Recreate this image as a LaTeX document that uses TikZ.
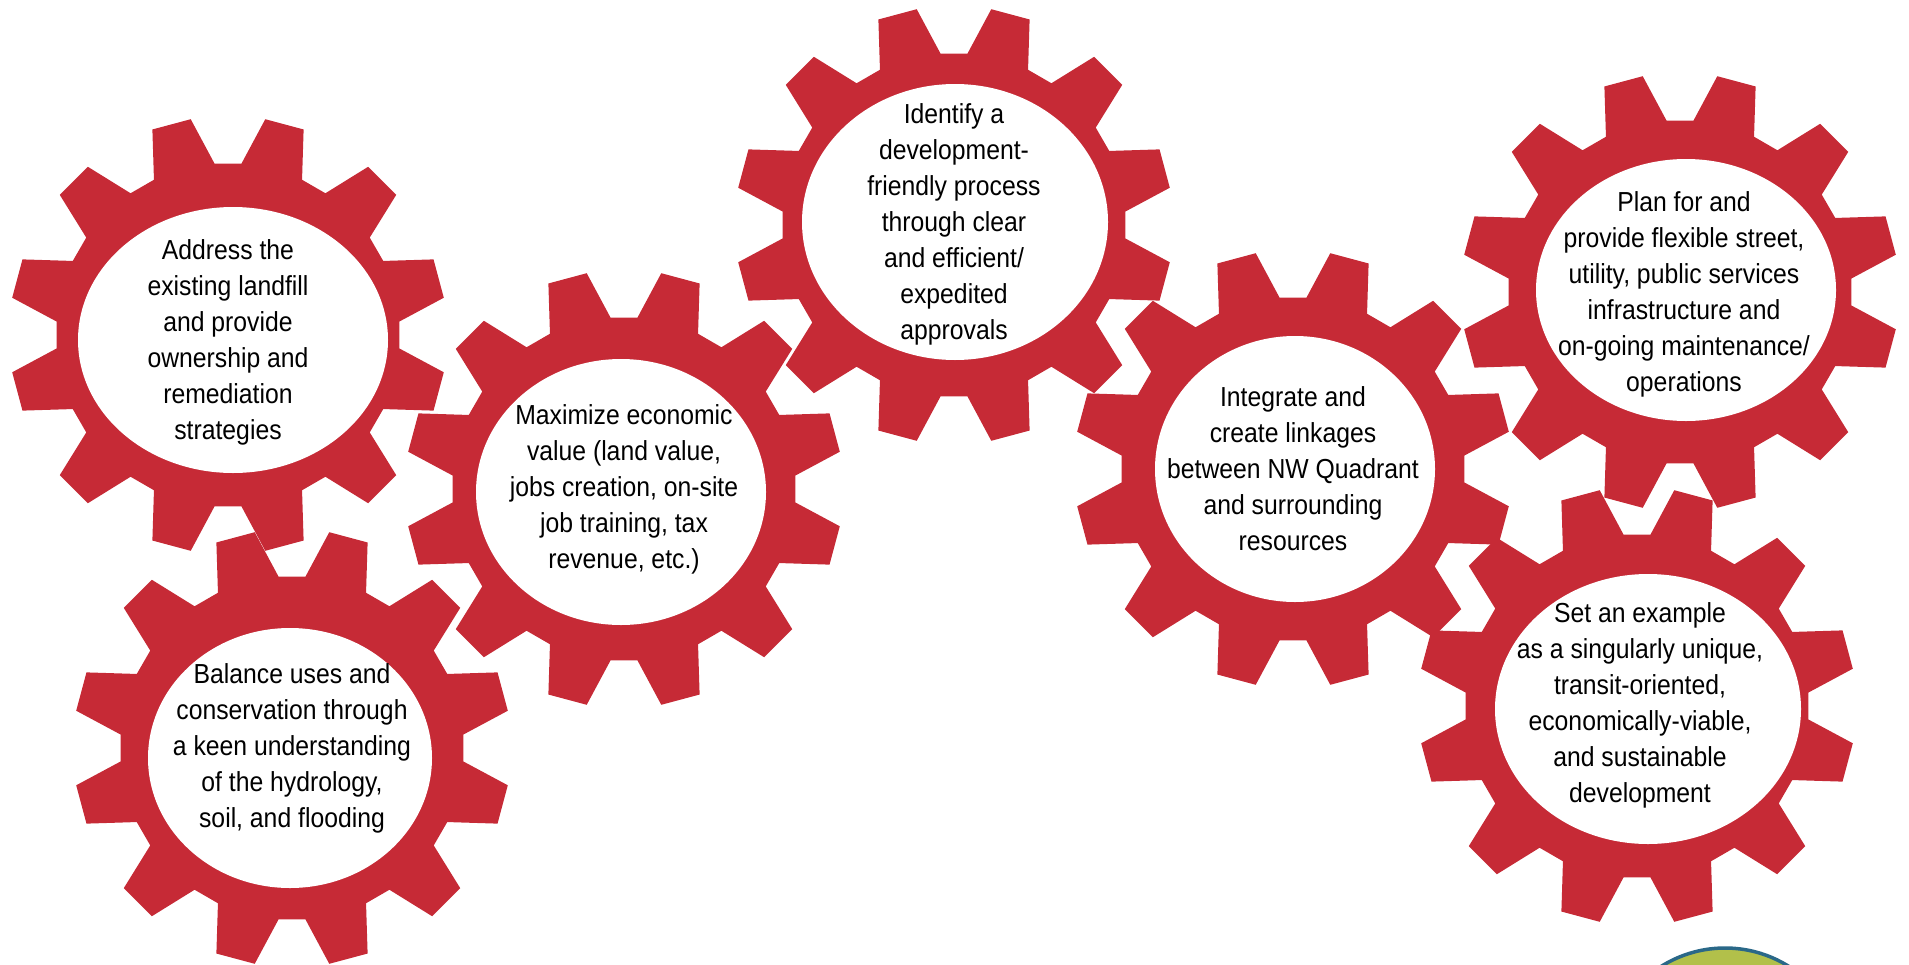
\documentclass[tikz,border=0pt]{standalone}
\usepackage{fontspec}
\setmainfont{Liberation Sans}[FakeStretch=0.9]
\definecolor{cogred}{RGB}{198,42,54}
\definecolor{sealfill}{RGB}{178,192,74}
\definecolor{sealline}{RGB}{42,104,136}
\tikzset{
cog/.pic={
    \fill[cogred] (4.5:172) \foreach \a in {15,45,...,345} {
        -- ({\a-10.5}:172) -- ({\a-5.2}:219) -- ({\a+5.2}:219) -- ({\a+10.5}:172)
    } -- cycle;
},
hub/.style={
    fill=white
},
goal/.style={
    align=center,
    inner sep=0pt,
    font=\fontsize{27.5}{36}\selectfont
},
seal/.style={
    fill=sealfill,
    draw=sealline,
    line width=3.5pt
}}

\begin{document}
\begin{tikzpicture}[x=1pt, y=-1pt]
\useasboundingbox (0,0) rectangle (1909,964);
\clip (0,0) rectangle (1909,964);

% gears
\pic at (228,335) {cog};
\pic at (292,748) {cog};
\pic at (624,489) {cog};
\pic at (954,225) {cog};
\pic at (1293,469) {cog};
\pic at (1680,292) {cog};
\pic at (1637,706) {cog};

% white hubs
\fill[hub] (233,340) ellipse (155 and 133);
\fill[hub] (290,758) ellipse (142 and 130);
\fill[hub] (621,492) ellipse (145 and 133);
\fill[hub] (955,222) ellipse (153 and 138);
\fill[hub] (1295,469) ellipse (140 and 133);
\fill[hub] (1686,290) ellipse (150 and 131);
\fill[hub] (1648,709) ellipse (153 and 135);

% goals
\node[goal] (landfill) at (228,342) {Address the\\existing landfill\\and provide\\ownership and\\remediation\\strategies};
\node[goal] (balance) at (292,748) {Balance uses and\\conservation through\\a keen understanding\\of the hydrology,\\soil, and flooding};
\node[goal] (value) at (624,489) {Maximize economic\\value (land value,\\jobs creation, on-site\\job training, tax\\revenue, etc.)};
\node[goal] (process) at (954,224) {Identify a\\development-\\friendly process\\through clear\\and efficient/\\expedited\\approvals};
\node[goal] (linkages) at (1293,469) {Integrate and\\create linkages\\between NW Quadrant\\and surrounding\\resources};
\node[goal] (infra) at (1684,294) {Plan for and\\provide flexible street,\\utility, public services\\infrastructure and\\on-going maintenance/\\operations};
\node[goal] (example) at (1640,705) {Set an example\\as a singularly unique,\\transit-oriented,\\economically-viable,\\and sustainable\\development};

% corner seal
\path[seal] (1725,1068) circle (120);
\end{tikzpicture}
\end{document}
